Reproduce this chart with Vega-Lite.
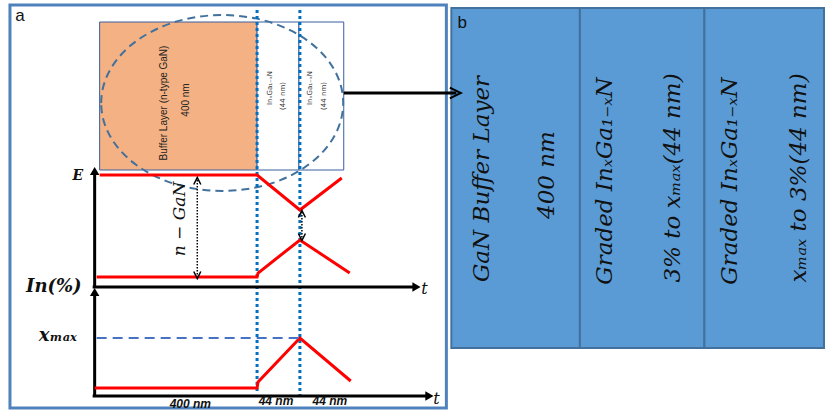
{
  "$schema": "https://vega.github.io/schema/vega-lite/v6.json",
  "autosize": {"type": "fit", "contains": "padding"},
  "width": 825,
  "height": 414,
  "padding": 0,
  "background": "white",
  "config": {"view": {"stroke": null}},
  "encoding": {
    "x": {"field": "x", "type": "quantitative", "scale": {"domain": [0, 825], "nice": false, "zero": false}, "axis": null},
    "y": {"field": "y", "type": "quantitative", "scale": {"domain": [0, 414], "nice": false, "zero": false, "reverse": true}, "axis": null}
  },
  "layer": [
    {
      "data": {"values": [{"x": 10, "x2": 448, "y": 5, "y2": 408}]},
      "mark": {"type": "rect", "fill": "white", "stroke": "#4f81bd", "strokeWidth": 3},
      "encoding": {"x2": {"field": "x2"}, "y2": {"field": "y2"}}
    },
    {
      "data": {"values": [
        {"x": 453, "x2": 582, "y": 8, "y2": 348},
        {"x": 582, "x2": 707, "y": 8, "y2": 348},
        {"x": 707, "x2": 827, "y": 8, "y2": 348}
      ]},
      "mark": {"type": "rect", "fill": "#5b9bd5", "stroke": "#41719c", "strokeWidth": 2},
      "encoding": {"x2": {"field": "x2"}, "y2": {"field": "y2"}}
    },
    {
      "data": {"values": [
        {"layer": "buffer", "x": 100, "x2": 258, "y": 22, "y2": 170},
        {"layer": "graded1", "x": 258, "x2": 300, "y": 22, "y2": 170},
        {"layer": "graded2", "x": 300, "x2": 345, "y": 22, "y2": 170}
      ]},
      "mark": {"type": "rect", "stroke": "#3a5f9e", "strokeWidth": 1},
      "encoding": {
        "x2": {"field": "x2"}, "y2": {"field": "y2"},
        "fill": {"field": "layer", "type": "nominal", "scale": {"domain": ["buffer", "graded1", "graded2"], "range": ["#f4b183", "#ffffff", "#ffffff"]}, "legend": null}
      }
    },
    {
      "data": {"values": [{"x": 223, "y": 103}]},
      "mark": {"type": "point", "shape": "M-1,0A1,0.727,0,1,1,1,0A1,0.727,0,1,1,-1,0Z", "size": 58564, "filled": false, "stroke": "#41719c", "strokeWidth": 2, "strokeDash": [8, 5], "opacity": 1}
    },
    {
      "data": {"values": [
        {"x": 258, "x2": 258, "y": 10, "y2": 391},
        {"x": 301, "x2": 301, "y": 10, "y2": 398}
      ]},
      "mark": {"type": "rule", "color": "#0070c0", "strokeWidth": 3, "strokeDash": [3, 3]},
      "encoding": {"x2": {"field": "x2"}, "y2": {"field": "y2"}}
    },
    {
      "data": {"values": [
        {"x": 95, "x2": 95, "y": 172, "y2": 287},
        {"x": 93, "x2": 415, "y": 287, "y2": 287},
        {"x": 95, "x2": 95, "y": 293, "y2": 396},
        {"x": 93, "x2": 428, "y": 396, "y2": 396},
        {"x": 345, "x2": 458, "y": 93, "y2": 93}
      ]},
      "mark": {"type": "rule", "color": "black", "strokeWidth": 3},
      "encoding": {"x2": {"field": "x2"}, "y2": {"field": "y2"}}
    },
    {
      "data": {"values": [{"x": 95, "y": 171}, {"x": 95, "y": 292}]},
      "mark": {"type": "point", "shape": "triangle-up", "size": 90, "filled": true, "color": "black", "opacity": 1}
    },
    {
      "data": {"values": [{"x": 418, "y": 287}, {"x": 431, "y": 396}]},
      "mark": {"type": "point", "shape": "triangle-right", "size": 90, "filled": true, "color": "black", "opacity": 1}
    },
    {
      "data": {"values": [{"x": 457, "y": 93}]},
      "mark": {"type": "point", "shape": "M-1,-1L1,0L-1,1", "size": 120, "filled": false, "stroke": "black", "strokeWidth": 2, "opacity": 1}
    },
    {
      "data": {"values": [
        {"seg": "c", "i": 1, "x": 100, "y": 175},
        {"seg": "c", "i": 2, "x": 258, "y": 175},
        {"seg": "c", "i": 3, "x": 301, "y": 210},
        {"seg": "c", "i": 4, "x": 343, "y": 178},
        {"seg": "v", "i": 1, "x": 97, "y": 277},
        {"seg": "v", "i": 2, "x": 258, "y": 277},
        {"seg": "v", "i": 3, "x": 259, "y": 273},
        {"seg": "v", "i": 4, "x": 301, "y": 240},
        {"seg": "v", "i": 5, "x": 351, "y": 273},
        {"seg": "x", "i": 1, "x": 95, "y": 388},
        {"seg": "x", "i": 2, "x": 258, "y": 388},
        {"seg": "x", "i": 3, "x": 259, "y": 382},
        {"seg": "x", "i": 4, "x": 301, "y": 338},
        {"seg": "x", "i": 5, "x": 352, "y": 381}
      ]},
      "mark": {"type": "line", "color": "#ff0000", "strokeWidth": 3},
      "encoding": {"detail": {"field": "seg"}, "order": {"field": "i", "type": "quantitative"}}
    },
    {
      "data": {"values": [{"x": 97, "x2": 301, "y": 338, "y2": 338}]},
      "mark": {"type": "rule", "color": "#4472c4", "strokeWidth": 2, "strokeDash": [10, 6]},
      "encoding": {"x2": {"field": "x2"}, "y2": {"field": "y2"}}
    },
    {
      "data": {"values": [
        {"x": 198, "x2": 198, "y": 180, "y2": 276},
        {"x": 303, "x2": 303, "y": 212, "y2": 238}
      ]},
      "mark": {"type": "rule", "color": "black", "strokeWidth": 1.5, "strokeDash": [1.5, 1.5]},
      "encoding": {"x2": {"field": "x2"}, "y2": {"field": "y2"}}
    },
    {
      "data": {"values": [{"x": 198, "y": 181}, {"x": 303, "y": 214}]},
      "mark": {"type": "point", "shape": "M-1,1L0,-1L1,1", "size": 50, "filled": false, "stroke": "black", "strokeWidth": 1.5, "opacity": 1}
    },
    {
      "data": {"values": [{"x": 198, "y": 275}, {"x": 303, "y": 237}]},
      "mark": {"type": "point", "shape": "M-1,-1L0,1L1,-1", "size": 50, "filled": false, "stroke": "black", "strokeWidth": 1.5, "opacity": 1}
    },
    {
      "data": {"values": [{"x": 20, "y": 16, "t": "a"}, {"x": 464, "y": 23, "t": "b"}]},
      "mark": {"type": "text", "font": "Liberation Sans", "fontSize": 17, "align": "center", "baseline": "middle", "color": "#111"},
      "encoding": {"text": {"field": "t"}}
    },
    {
      "data": {"values": [{"x": 165, "y": 103, "t": "Buffer Layer (n-type GaN)"}, {"x": 187, "y": 100, "t": "400 nm"}]},
      "mark": {"type": "text", "font": "Liberation Sans", "fontSize": 10, "angle": 270, "align": "center", "baseline": "middle", "color": "#222"},
      "encoding": {"text": {"field": "t"}}
    },
    {
      "data": {"values": [
        {"x": 271, "y": 88, "t": "InₓGa₁₋ₓN"},
        {"x": 284, "y": 96, "t": "(44 nm)"},
        {"x": 311, "y": 88, "t": "InₓGa₁₋ₓN"},
        {"x": 325, "y": 96, "t": "(44 nm)"}
      ]},
      "mark": {"type": "text", "font": "DejaVu Sans", "fontSize": 7, "angle": 270, "align": "center", "baseline": "middle", "color": "#333"},
      "encoding": {"text": {"field": "t"}}
    },
    {
      "data": {"values": [{"x": 78, "y": 176, "t": "E"}]},
      "mark": {"type": "text", "font": "DejaVu Serif", "fontSize": 14, "fontStyle": "italic", "fontWeight": "bold", "align": "center", "baseline": "middle", "color": "#111"},
      "encoding": {"text": {"field": "t"}}
    },
    {
      "data": {"values": [{"x": 54, "y": 287, "t": "In(%)"}, {"x": 58, "y": 336, "t": "xₘₐₓ"}]},
      "mark": {"type": "text", "font": "DejaVu Serif", "fontSize": 18, "fontStyle": "italic", "fontWeight": "bold", "align": "center", "baseline": "middle", "color": "#111"},
      "encoding": {"text": {"field": "t"}}
    },
    {
      "data": {"values": [{"x": 426, "y": 289, "t": "t"}, {"x": 438, "y": 399, "t": "t"}]},
      "mark": {"type": "text", "font": "DejaVu Serif", "fontSize": 16, "fontStyle": "italic", "align": "center", "baseline": "middle", "color": "#111"},
      "encoding": {"text": {"field": "t"}}
    },
    {
      "data": {"values": [{"x": 181, "y": 219, "t": "n − GaN"}]},
      "mark": {"type": "text", "font": "DejaVu Serif", "fontSize": 17, "fontStyle": "italic", "angle": 270, "align": "center", "baseline": "middle", "color": "#111"},
      "encoding": {"text": {"field": "t"}}
    },
    {
      "data": {"values": [{"x": 191, "y": 404, "t": "400 nm"}, {"x": 277, "y": 401, "t": "44 nm"}, {"x": 331, "y": 401, "t": "44 nm"}]},
      "mark": {"type": "text", "font": "Liberation Sans", "fontSize": 12, "fontStyle": "italic", "fontWeight": "bold", "align": "center", "baseline": "middle", "color": "#111"},
      "encoding": {"text": {"field": "t"}}
    },
    {
      "data": {"values": [
        {"x": 484, "y": 179, "t": "GaN Buffer Layer"},
        {"x": 549, "y": 175, "t": "400 nm"},
        {"x": 607, "y": 181, "t": "Graded InₓGa₁₋ₓN"},
        {"x": 675, "y": 178, "t": "3% to xₘₐₓ(44 nm)"},
        {"x": 733, "y": 181, "t": "Graded InₓGa₁₋ₓN"},
        {"x": 802, "y": 178, "t": "xₘₐₓ to 3%(44 nm)"}
      ]},
      "mark": {"type": "text", "font": "DejaVu Serif", "fontSize": 23, "fontStyle": "italic", "angle": 270, "align": "center", "baseline": "middle", "color": "#111"},
      "encoding": {"text": {"field": "t"}}
    }
  ]
}
